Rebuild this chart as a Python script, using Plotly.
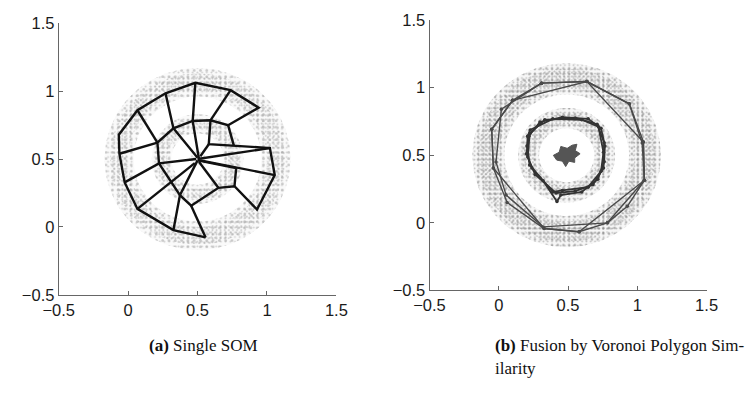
import numpy as np
import plotly.graph_objects as go

# ---------------- data ----------------
ticks = [-0.5, 0, 0.5, 1, 1.5]

# (a) single SOM: grid edges traced as polylines (x, y)
som_paths = [
    [(0.558, -0.077), (0.326, -0.023), (0.067, 0.133), (-0.025, 0.328), (-0.063, 0.539),
     (-0.067, 0.679), (0.067, 0.859), (0.269, 0.984), (0.484, 1.061), (0.738, 1.007),
     (0.940, 0.878), (0.720, 0.749), (0.593, 0.785), (0.465, 0.780), (0.326, 0.726),
     (0.211, 0.621), (0.222, 0.468), (0.373, 0.234), (0.454, 0.157), (0.650, 0.288),
     (0.766, 0.300), (0.928, 0.129), (1.056, 0.382), (1.021, 0.581), (0.581, 0.609),
     (0.593, 0.785)],
    [(0.558, -0.077), (0.454, 0.157)],
    [(0.326, -0.023), (0.373, 0.234), (0.50, 0.49)],
    [(0.067, 0.133), (0.48, 0.47)],
    [(-0.025, 0.328), (0.222, 0.468), (0.49, 0.50)],
    [(-0.063, 0.539), (0.211, 0.621)],
    [(0.067, 0.859), (0.211, 0.621)],
    [(0.269, 0.984), (0.326, 0.726), (0.50, 0.51)],
    [(0.484, 1.061), (0.465, 0.780), (0.51, 0.50)],
    [(0.738, 1.007), (0.593, 0.785)],
    [(0.720, 0.749), (0.762, 0.597)],
    [(0.581, 0.609), (0.52, 0.52)],
    [(0.650, 0.288), (0.51, 0.48)],
    [(0.766, 0.300), (0.778, 0.433), (0.50, 0.49)],
    [(1.056, 0.382), (0.52, 0.49)],
    [(1.021, 0.581), (0.50, 0.50)],
]

# sample density bands: (centre x, centre y, inner radius, outer radius)
bands_a = [(0.5, 0.5, 0.46, 0.67), (0.5, 0.5, 0.50, 0.63),
           (0.5, 0.5, 0.19, 0.33), (0.5, 0.5, 0.22, 0.30),
           (0.5, 0.5, 0.0, 0.06)]
bands_b = [(0.49, 0.5, 0.45, 0.68), (0.49, 0.5, 0.49, 0.64),
           (0.49, 0.5, 0.20, 0.35), (0.49, 0.5, 0.23, 0.31)]

# (b) fused maps: outer ring polygons
outer_polys = [
    [(0.309, 1.033), (0.636, 1.045), (0.942, 0.880), (1.044, 0.598), (1.051, 0.315),
     (0.928, 0.122), (0.784, 0.000), (0.580, -0.066), (0.327, -0.042), (0.060, 0.151),
     (-0.039, 0.405), (-0.051, 0.692), (0.100, 0.906), (0.309, 1.033)],
    [(0.100, 0.906), (0.636, 1.045), (1.044, 0.598), (1.051, 0.315), (0.580, -0.066),
     (0.327, -0.042), (-0.039, 0.405), (-0.051, 0.692), (0.100, 0.906)],
    [(0.309, 1.033), (0.019, 0.840), (-0.020, 0.450), (0.053, 0.205), (0.320, -0.030),
     (0.784, 0.000), (1.051, 0.315), (1.035, 0.590), (0.942, 0.880), (0.636, 1.045),
     (0.309, 1.033)],
]
# inner ring polygons
inner_polys = [
    [(0.216, 0.640), (0.297, 0.746), (0.459, 0.781), (0.645, 0.769), (0.738, 0.699),
     (0.766, 0.569), (0.761, 0.452), (0.715, 0.322), (0.599, 0.228), (0.448, 0.205),
     (0.420, 0.158), (0.320, 0.311), (0.239, 0.405), (0.200, 0.511), (0.216, 0.640)],
    [(0.223, 0.659), (0.332, 0.762), (0.552, 0.776), (0.710, 0.729), (0.761, 0.593),
     (0.756, 0.405), (0.680, 0.282), (0.552, 0.235), (0.413, 0.221), (0.262, 0.358),
     (0.209, 0.487), (0.223, 0.659)],
    [(0.209, 0.640), (0.227, 0.687), (0.390, 0.769), (0.599, 0.762), (0.719, 0.711),
     (0.756, 0.522), (0.738, 0.381), (0.645, 0.264), (0.459, 0.240), (0.390, 0.228),
     (0.223, 0.428), (0.204, 0.569), (0.209, 0.640)],
]
# collapsed centre cluster
centre_star = [(0.394, 0.499), (0.436, 0.522), (0.448, 0.565), (0.494, 0.551), (0.529, 0.574),
               (0.564, 0.581), (0.552, 0.534), (0.587, 0.511), (0.548, 0.480), (0.548, 0.447),
               (0.506, 0.456), (0.483, 0.416), (0.459, 0.456), (0.418, 0.464), (0.394, 0.499)]

caption_lines = [("<b>(a)</b> Single SOM", 136, 352),
                 ("<b>(b)</b> Fusion by Voronoi Polygon Sim-", 495, 352),
                 ("ilarity", 495, 377)]

# ---------------- figure ----------------
fig = go.Figure()


def annulus(cx, cy, r0, r1, n=180):
    t = np.linspace(0, 2 * np.pi, n)
    xo, yo = cx + r1 * np.cos(t), cy + r1 * np.sin(t)
    if r0 <= 0:
        return xo, yo
    xi, yi = cx + r0 * np.cos(t[::-1]), cy + r0 * np.sin(t[::-1])
    return np.concatenate([xo, xi]), np.concatenate([yo, yi])


def add_band(band, xa, ya, color, size, solidity, haze):
    cx, cy, r0, r1 = band
    bx, by = annulus(cx, cy, r0, r1)
    fig.add_trace(go.Scatter(
        x=bx, y=by, mode="lines", line=dict(width=0), fill="toself",
        fillcolor=haze,
        fillpattern=dict(shape=".", size=size, solidity=solidity, fgcolor=color,
                         bgcolor=haze),
        xaxis=xa, yaxis=ya, hoverinfo="skip", showlegend=False))


def add_paths(paths, xa, ya, color, width, marker=None):
    xs, ys = [], []
    for p in paths:
        xs += [q[0] for q in p] + [None]
        ys += [q[1] for q in p] + [None]
    fig.add_trace(go.Scatter(
        x=xs, y=ys, mode="lines+markers" if marker else "lines",
        line=dict(color=color, width=width),
        marker=dict(size=marker or 1, color=color),
        xaxis=xa, yaxis=ya, hoverinfo="skip", showlegend=False))


# speckled sample clouds: two offset dot lattices per band for an irregular texture
for i, b in enumerate(bands_a):
    core = i in (1, 3, 4)
    add_band(b, "x", "y", "#9a9a9a", 6.3 if not core else 4.1, 0.16,
             "rgba(120,120,120,0.04)" if not core else "rgba(0,0,0,0)")
    add_band(b, "x", "y", "#a8a8a8", 4.7 if not core else 5.3, 0.14, "rgba(0,0,0,0)")
add_paths(som_paths, "x", "y", "#111111", 2.4)

for i, b in enumerate(bands_b):
    core = i in (1, 3)
    add_band(b, "x2", "y2", "#7a7a7a", 5.7 if not core else 3.9, 0.17,
             "rgba(100,100,100,0.05)" if not core else "rgba(0,0,0,0)")
    add_band(b, "x2", "y2", "#8a8a8a", 4.3 if not core else 4.9, 0.15, "rgba(0,0,0,0)")
add_paths(outer_polys, "x2", "y2", "#4a4a4a", 1.4, marker=3.5)
add_paths(inner_polys, "x2", "y2", "#333333", 1.8, marker=3.5)
fig.add_trace(go.Scatter(
    x=[q[0] for q in centre_star], y=[q[1] for q in centre_star], mode="lines",
    fill="toself", fillcolor="#555555", line=dict(color="#555555", width=1),
    xaxis="x2", yaxis="y2", hoverinfo="skip", showlegend=False))

axis_style = dict(
    range=[-0.5, 1.5], tickvals=ticks, showgrid=False, zeroline=False,
    showline=True, linecolor="#666666", linewidth=1, ticks="inside", ticklen=4,
    tickcolor="#666666", tickfont=dict(family="Liberation Sans", size=16.5, color="#1a1a1a"),
    fixedrange=True,
)

fig.update_layout(
    width=755, height=397, margin=dict(l=0, r=0, t=0, b=0),
    paper_bgcolor="white", plot_bgcolor="white", showlegend=False,
    xaxis=dict(domain=[0.0587, 0.4401], anchor="y", **axis_style),
    yaxis=dict(domain=[0.2456, 0.9627], anchor="x", **axis_style),
    xaxis2=dict(domain=[0.5680, 0.9486], anchor="y2", **axis_style),
    yaxis2=dict(domain=[0.2574, 0.9710], anchor="x2", **axis_style),
    annotations=[
        dict(text=t, x=px / 755, y=1 - py / 397, xref="paper", yref="paper",
             xanchor="left", yanchor="middle", showarrow=False, align="left",
             font=dict(family="Liberation Serif", size=17, color="#111111"))
        for t, px, py in caption_lines
    ],
)

fig.write_html("out.html")
